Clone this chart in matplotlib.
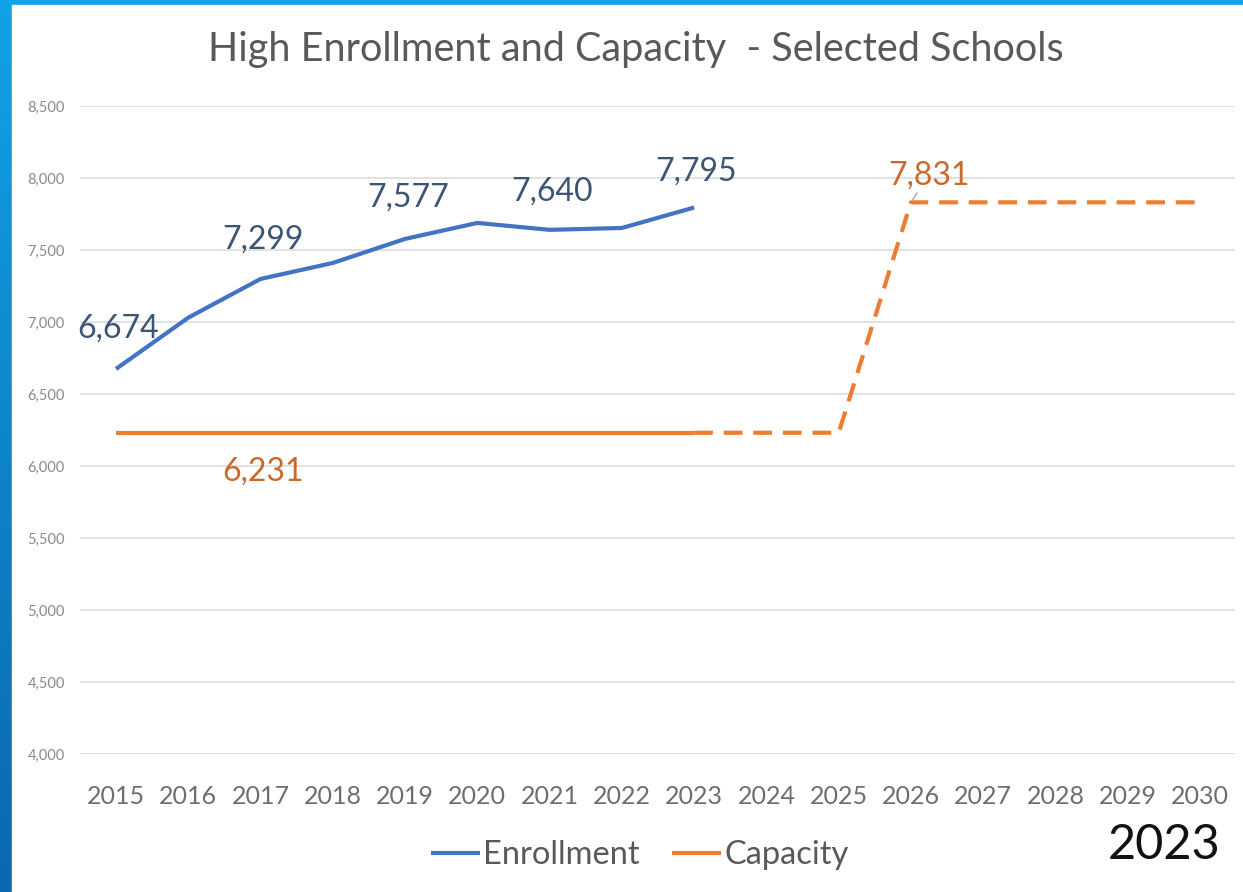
import matplotlib
matplotlib.use("Agg")
import matplotlib.pyplot as plt
import numpy as np

plt.rcParams['font.family'] = ['Lato', 'DejaVu Sans']

years = list(range(2015, 2031))
enroll_years = list(range(2015, 2024))
enrollment = [6674, 7030, 7299, 7410, 7577, 7688, 7640, 7653, 7795]
capacity = [6231, 6231, 6231, 6231, 6231, 6231, 6231, 6231, 6231, 6231, 6231,
            7831, 7831, 7831, 7831, 7831]
cap_solid_end = 2023
yticks = [4000, 4500, 5000, 5500, 6000, 6500, 7000, 7500, 8000, 8500]
title = "High Enrollment and Capacity  - Selected Schools"
corner_text = "2023"

BLUE = "#4472C4"
ORANGE = "#ED7D31"
BLUE_LBL = "#3D5575"
ORANGE_LBL = "#C96A2C"

W, H = 1243, 892
fig = plt.figure(figsize=(W / 100, H / 100), dpi=100)

# blue frame (gradient) on left and top
bg = fig.add_axes([0, 0, 1, 1], zorder=-10)
grad = np.linspace(0, 1, 256).reshape(-1, 1)
c1 = np.array([0x12, 0xa2, 0xe8]) / 255
c2 = np.array([0x0b, 0x68, 0xae]) / 255
img = (c1[None, None, :] * (1 - grad[:, :, None]) + c2[None, None, :] * grad[:, :, None])
bg.imshow(img, aspect='auto', extent=[0, 1, 0, 1])
bg.add_patch(plt.Rectangle((12 / W, 0), 1, 1 - 5 / H, color='white'))
bg.set_xlim(0, 1)
bg.set_ylim(0, 1)
bg.axis('off')

ax = fig.add_axes([80 / W, 1 - 754 / H, (1235 - 80) / W, (754 - 106) / H])
ax.set_facecolor('none')
x0 = 2015 - 36 / 72.27
x1 = 2030 + 35 / 72.27
ax.set_xlim(x0, x1)
ax.set_ylim(4000, 8500)

ax.set_yticks(yticks)
ax.set_yticklabels([f"{v:,}" for v in yticks], fontsize=10.5, color='#8a8a8a')
ax.set_xticks(years)
ax.set_xticklabels([str(y) for y in years], fontsize=18, color='#6e6e6e')
ax.tick_params(axis='both', length=0)
ax.tick_params(axis='y', pad=11)
ax.tick_params(axis='x', pad=22)
ax.grid(axis='y', color='#dcdcdc', lw=1.2)
ax.set_axisbelow(True)
for s in ax.spines.values():
    s.set_visible(False)

# enrollment
ax.plot(enroll_years, enrollment, color=BLUE, lw=3, solid_capstyle='butt',
        label='Enrollment')

# capacity: solid up to 2023, dashed after
idx = years.index(cap_solid_end)
ax.plot(years[:idx + 1], capacity[:idx + 1], color=ORANGE, lw=3,
        solid_capstyle='butt', label='Capacity')
ax.plot(years[idx:], capacity[idx:], color=ORANGE, lw=3,
        linestyle=(0, (4.5, 2.6)), dash_capstyle='butt')

# data labels
blue_labels = {2015: (2, 40), 2017: (2, 39), 2019: (3, 41), 2021: (2, 38), 2023: (2, 36)}
for yr, off in blue_labels.items():
    v = enrollment[enroll_years.index(yr)]
    ax.annotate(f"{v:,}", (yr, v), xytext=off, textcoords='offset pixels',
                ha='center', va='center', fontsize=23, color=BLUE_LBL)

v = capacity[years.index(2017)]
ax.annotate(f"{v:,}", (2017, v), xytext=(2, -39), textcoords='offset pixels',
            ha='center', va='center', fontsize=23, color=ORANGE_LBL)

v = capacity[years.index(2026)]
ax.annotate(f"{v:,}", (2026, v), xytext=(18, 27), textcoords='offset pixels',
            ha='center', va='center', fontsize=23, color=ORANGE_LBL,
            arrowprops=dict(arrowstyle='-', color='#a6a6a6', lw=1,
                            shrinkA=13, shrinkB=2))

fig.text(636 / W, 1 - 50 / H, title, ha='center', va='center',
         fontsize=28.5, color='#595959')

leg = fig.legend(loc='center', bbox_to_anchor=(640 / W, 1 - 855 / H),
                 ncol=2, frameon=False, fontsize=23.5, handlelength=1.5,
                 handletextpad=0.1, columnspacing=1.0, labelcolor='#595959')

fig.text(1221 / W, 1 - 845 / H, corner_text, ha='right', va='center',
         fontsize=35, color='#111111')

fig.savefig('out.png', dpi=100)
